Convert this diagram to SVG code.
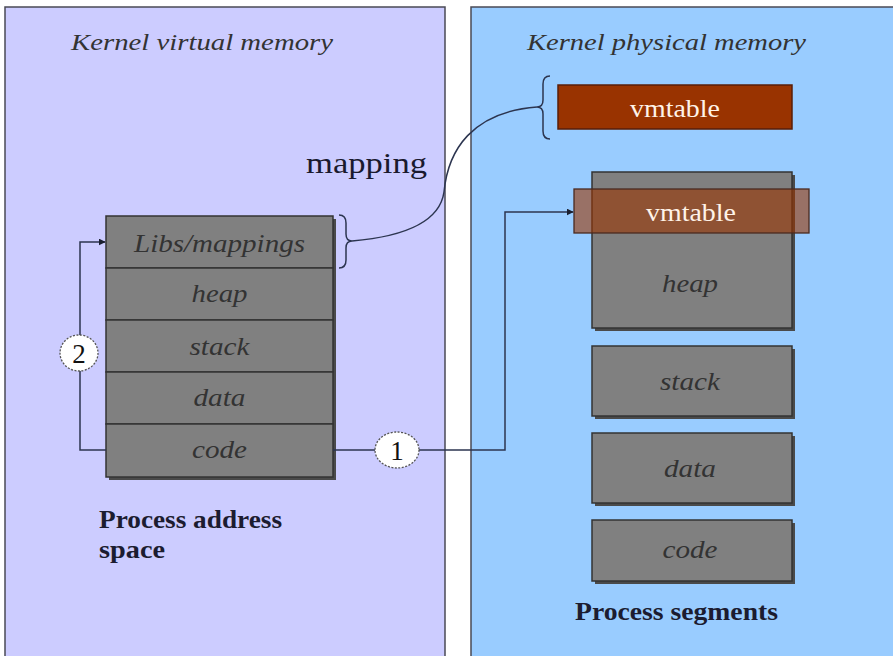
<svg xmlns="http://www.w3.org/2000/svg" width="893" height="656" viewBox="0 0 893 656">
  <style>
    text { font-family: "Liberation Serif", "Times New Roman", "DejaVu Serif", serif; }
    .panel { stroke: #4a4a55; stroke-width: 1.5; }
    .seg { fill: #808080; stroke: #333; stroke-width: 1.5; }
    .shadow { fill: #4a4a4a; }
    .lbl { font-style: italic; font-size: 25px; fill: #333; text-anchor: middle; }
    .title { font-style: italic; font-size: 24px; fill: #333; }
    .cap { font-weight: bold; font-size: 25px; fill: #1c1c30; }
    .vm { font-size: 26px; fill: #fff3e8; text-anchor: middle; }
    .wire { fill: none; stroke: #2c3550; stroke-width: 1.5; }
    .badge { fill: #fff; stroke: #555; stroke-width: 1.3; stroke-dasharray: 2 1.5; }
    .num { font-size: 27px; fill: #111; text-anchor: middle; }
  </style>
  <defs>
    <marker id="arrow" viewBox="0 0 10 10" refX="9" refY="5" markerWidth="7" markerHeight="7" markerUnits="userSpaceOnUse" orient="auto">
      <path d="M0,0 L10,5 L0,10 z" fill="#1a1f30"/>
    </marker>
  </defs>

  <rect width="893" height="656" fill="#ffffff"/>

  <!-- kernel virtual memory panel -->
  <g id="virtual-panel">
    <rect class="panel" x="5" y="7" width="440" height="660" fill="#ccccff"/>
    <text class="title" x="71" y="50" textLength="262" lengthAdjust="spacingAndGlyphs">Kernel virtual memory</text>
    <text class="cap" x="99" y="528" textLength="183" lengthAdjust="spacingAndGlyphs">Process address</text>
    <text class="cap" x="99" y="558" textLength="66" lengthAdjust="spacingAndGlyphs">space</text>
  </g>

  <!-- kernel physical memory panel -->
  <g id="physical-panel">
    <rect class="panel" x="471" y="7" width="440" height="660" fill="#99ccff"/>
    <text class="title" x="527" y="50" textLength="279" lengthAdjust="spacingAndGlyphs">Kernel physical memory</text>
    <text class="cap" x="575" y="620" textLength="203" lengthAdjust="spacingAndGlyphs">Process segments</text>
  </g>

  <text x="306" y="173" font-size="30" fill="#1a1a2e" textLength="121" lengthAdjust="spacingAndGlyphs">mapping</text>

  <!-- process address space stack -->
  <g id="addr-space">
    <rect class="shadow" x="109" y="219" width="227" height="261"/>
    <g id="libs">
      <rect class="seg" x="106" y="216" width="227" height="52"/>
      <text class="lbl" x="219.5" y="252" textLength="171" lengthAdjust="spacingAndGlyphs">Libs/mappings</text>
    </g>
    <g id="heap-v">
      <rect class="seg" x="106" y="268" width="227" height="52"/>
      <text class="lbl" x="219.5" y="302" textLength="56" lengthAdjust="spacingAndGlyphs">heap</text>
    </g>
    <g id="stack-v">
      <rect class="seg" x="106" y="320" width="227" height="52"/>
      <text class="lbl" x="219.5" y="355" textLength="60" lengthAdjust="spacingAndGlyphs">stack</text>
    </g>
    <g id="data-v">
      <rect class="seg" x="106" y="372" width="227" height="52"/>
      <text class="lbl" x="219.5" y="406" textLength="52" lengthAdjust="spacingAndGlyphs">data</text>
    </g>
    <g id="code-v">
      <rect class="seg" x="106" y="424" width="227" height="53"/>
      <text class="lbl" x="219.5" y="458" textLength="55" lengthAdjust="spacingAndGlyphs">code</text>
    </g>
  </g>

  <!-- process segments -->
  <g id="vmtable-top">
    <rect x="558" y="85" width="234" height="44" fill="#993300" stroke="#5a1e08" stroke-width="1.5"/>
    <text class="vm" x="675" y="117" textLength="90" lengthAdjust="spacingAndGlyphs">vmtable</text>
  </g>
  <g id="heap-p">
    <rect class="shadow" x="595" y="175" width="200" height="156"/>
    <rect class="seg" x="592" y="172" width="200" height="156"/>
    <text class="lbl" x="690" y="292" textLength="56" lengthAdjust="spacingAndGlyphs">heap</text>
  </g>
  <g id="vmtable-overlay">
    <rect x="574" y="189" width="235" height="44" fill="#993300" fill-opacity="0.6" stroke="#4a2a20" stroke-width="1.3"/>
    <text class="vm" x="691" y="221" textLength="90" lengthAdjust="spacingAndGlyphs">vmtable</text>
  </g>
  <g id="stack-p">
    <rect class="shadow" x="595" y="349" width="200" height="70"/>
    <rect class="seg" x="592" y="346" width="200" height="70"/>
    <text class="lbl" x="690" y="390" textLength="60" lengthAdjust="spacingAndGlyphs">stack</text>
  </g>
  <g id="data-p">
    <rect class="shadow" x="595" y="436" width="200" height="70"/>
    <rect class="seg" x="592" y="433" width="200" height="70"/>
    <text class="lbl" x="690" y="477" textLength="52" lengthAdjust="spacingAndGlyphs">data</text>
  </g>
  <g id="code-p">
    <rect class="shadow" x="595" y="523" width="200" height="61"/>
    <rect class="seg" x="592" y="520" width="200" height="61"/>
    <text class="lbl" x="690" y="558" textLength="55" lengthAdjust="spacingAndGlyphs">code</text>
  </g>

  <!-- connectors -->
  <g id="connectors">
    <!-- 2: code back to libs -->
    <path class="wire" d="M106,450 H80 V242 H105" marker-end="url(#arrow)"/>
    <!-- 1: code to physical vmtable -->
    <path class="wire" d="M333,450 H505 V212 H573" marker-end="url(#arrow)"/>
    <!-- braces and mapping curve -->
    <path class="wire" d="M339,215 Q346,215 346,223 L346,234 Q346,241 352,241 Q346,241 346,248 L346,260 Q346,268 339,268"/>
    <path class="wire" d="M550,76 Q543,76 543,84 L543,100 Q543,107 537,107 Q543,107 543,114 L543,131 Q543,139 550,139"/>
    <path class="wire" d="M352,241 C410,236 440,220 444,192 C448,150 472,112 537,107"/>
    <g id="badge-2">
      <ellipse class="badge" cx="79" cy="353" rx="19" ry="18"/>
      <text class="num" x="79" y="363">2</text>
    </g>
    <g id="badge-1">
      <ellipse class="badge" cx="397" cy="450" rx="22" ry="18"/>
      <text class="num" x="397" y="460">1</text>
    </g>
  </g>
</svg>
